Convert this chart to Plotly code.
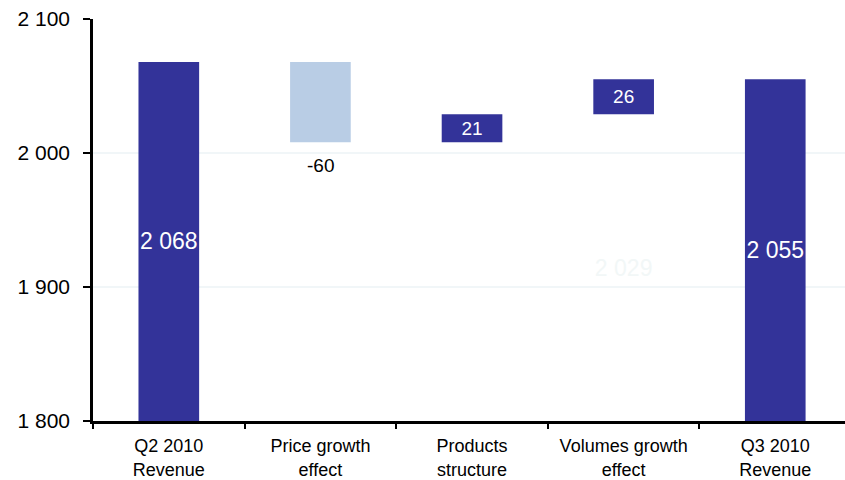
import plotly.graph_objects as go

# Revenue bridge, Q2 2010 -> Q3 2010
categories = ["Q2 2010<br>Revenue", "Price growth<br>effect", "Products<br>structure",
              "Volumes growth<br>effect", "Q3 2010<br>Revenue"]
opening_revenue = 2068
effect_names = ["Price growth<br>effect", "Products<br>structure", "Volumes growth<br>effect"]
effect_values = [-60, 21, 26]
closing_revenue = 2055

y_min, y_max = 1800, 2100
y_ticks = [1800, 1900, 2000, 2100]

DARK = "#333399"
LIGHT = "#B9CDE5"
FAINT = "#F2F7F7"
FONT = "Liberation Sans, Arial, sans-serif"


def fmt(v):
    return f"{v:,}".replace(",", " ")


# running totals: each effect starts where the previous one ended
starts = []
level = opening_revenue
for v in effect_values:
    starts.append(level)
    level += v

fig = go.Figure()

# opening and closing totals, drawn up from the axis floor
totals_x = [categories[0], categories[-1]]
totals_v = [opening_revenue, closing_revenue]
fig.add_trace(go.Bar(
    x=totals_x, y=[v - y_min for v in totals_v], base=[y_min] * 2,
    marker=dict(color=DARK, line=dict(width=0)), width=0.4,
    text=[fmt(v) for v in totals_v], textposition="inside", insidetextanchor="middle",
    textangle=0, constraintext="none",
    textfont=dict(color="white", size=23, family=FONT),
    showlegend=False, hoverinfo="skip",
))

# transparent support bars under each effect
support_labels = ["", "", fmt(starts[2])]
fig.add_trace(go.Bar(
    x=effect_names, y=[s + min(v, 0) - y_min for s, v in zip(starts, effect_values)],
    base=[y_min] * 3,
    marker=dict(color="rgba(0,0,0,0)", line=dict(width=0)), width=0.4,
    text=support_labels, textposition="inside", insidetextanchor="middle",
    textangle=0, constraintext="none",
    textfont=dict(color=FAINT, size=23, family=FONT),
    showlegend=False, hoverinfo="skip",
))

# the effects themselves; negative values get their label below the bar
fig.add_trace(go.Bar(
    x=effect_names, y=effect_values, base=starts,
    marker=dict(color=[LIGHT if v < 0 else DARK for v in effect_values], line=dict(width=0)),
    width=0.4,
    text=["" if v < 0 else fmt(v) for v in effect_values],
    textposition="inside", insidetextanchor="middle", textangle=0, constraintext="none",
    textfont=dict(color="white", size=19, family=FONT),
    showlegend=False, hoverinfo="skip",
))
for name, s, v in zip(effect_names, starts, effect_values):
    if v < 0:
        fig.add_annotation(
            x=name, y=s + v, text=fmt(v), showarrow=False,
            yanchor="top", yshift=-11,
            font=dict(color="black", size=19, family=FONT),
        )

fig.update_layout(
    width=845, height=480,
    margin=dict(l=93, r=0, t=19, b=57),
    paper_bgcolor="white", plot_bgcolor="white",
    barmode="overlay",
    separators=". ",
    font=dict(family=FONT, color="black"),
)

fig.update_xaxes(
    type="category", categoryorder="array", categoryarray=categories,
    range=[-0.5, 4.46],
    showline=True, linecolor="black", linewidth=2.5,
    ticks="outside", tickson="boundaries", ticklen=5, tickwidth=1.5, tickcolor="black",
    ticklabelstandoff=7,
    showgrid=False, tickfont=dict(size=18, family=FONT),
)
fig.update_yaxes(
    range=[y_min, y_max], tickvals=y_ticks, tickformat=",d",
    showline=True, linecolor="black", linewidth=2.5,
    ticks="outside", ticklen=7, tickwidth=1.5, tickcolor="black",
    ticklabelstandoff=9,
    showgrid=True, gridcolor="#F1F6F8", gridwidth=1.5,
    zeroline=False, tickfont=dict(size=21, family=FONT),
)

fig.write_html("out.html")
